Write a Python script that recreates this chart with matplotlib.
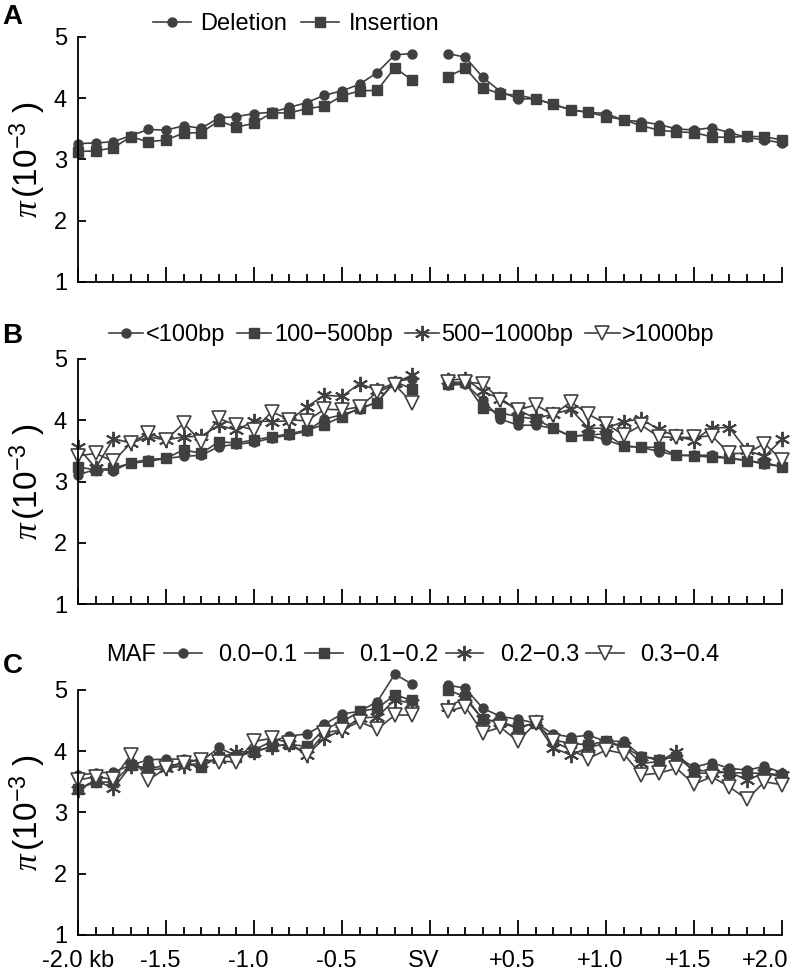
import matplotlib
matplotlib.use('Agg')
import matplotlib.pyplot as plt
import matplotlib.transforms as mtransforms
from matplotlib.ticker import MultipleLocator, FixedLocator

plt.rcParams['font.family'] = ['Liberation Sans', 'DejaVu Sans']
plt.rcParams['mathtext.fontset'] = 'custom'
plt.rcParams['mathtext.rm'] = 'Liberation Sans'
plt.rcParams['mathtext.it'] = 'Liberation Serif:italic'

# distance from the SV (kb), 20 windows each side
dist = [-2.0, -1.9, -1.8, -1.7, -1.6, -1.5, -1.4, -1.3, -1.2, -1.1,
        -1.0, -0.9, -0.8, -0.7, -0.6, -0.5, -0.4, -0.3, -0.2, -0.1,
        0.1, 0.2, 0.3, 0.4, 0.5, 0.6, 0.7, 0.8, 0.9, 1.0,
        1.1, 1.2, 1.3, 1.4, 1.5, 1.6, 1.7, 1.8, 1.9, 2.0]

xtick_pos = [-2.0, -1.5, -1.0, -0.5, 0.0, 0.5, 1.0, 1.5, 2.0]
xtick_lab = ['-2.0 kb', '-1.5', '-1.0', '-0.5', 'SV', '+0.5', '+1.0', '+1.5', '+2.0']

# panel A: SV type
deletion = [3.26, 3.27, 3.29, 3.39, 3.49, 3.48, 3.55, 3.51, 3.68, 3.70,
            3.75, 3.77, 3.85, 3.93, 4.05, 4.12, 4.23, 4.42, 4.71, 4.73,
            4.73, 4.67, 4.34, 4.11, 3.99, 3.99, 3.90, 3.81, 3.77, 3.75,
            3.64, 3.62, 3.57, 3.50, 3.48, 3.52, 3.44, 3.36, 3.32, 3.27]
insertion = [3.13, 3.14, 3.19, 3.37, 3.29, 3.32, 3.43, 3.44, 3.63, 3.53,
             3.59, 3.76, 3.76, 3.83, 3.87, 4.04, 4.12, 4.13, 4.50, 4.29,
             4.35, 4.49, 4.17, 4.07, 4.05, 3.99, 3.90, 3.81, 3.77, 3.70,
             3.65, 3.55, 3.48, 3.45, 3.44, 3.37, 3.36, 3.38, 3.37, 3.32]

# panel B: SV length
len_lt100 = [3.11, 3.20, 3.18, 3.31, 3.36, 3.38, 3.41, 3.43, 3.57, 3.61,
             3.64, 3.71, 3.76, 3.82, 4.02, 4.09, 4.18, 4.30, 4.63, 4.68,
             4.57, 4.59, 4.33, 4.02, 3.92, 3.92, 3.87, 3.74, 3.76, 3.68,
             3.58, 3.56, 3.49, 3.43, 3.43, 3.43, 3.38, 3.35, 3.28, 3.25]
len_100_500 = [3.24, 3.19, 3.22, 3.30, 3.33, 3.38, 3.52, 3.46, 3.65, 3.63,
               3.68, 3.73, 3.78, 3.84, 3.93, 4.06, 4.20, 4.29, 4.63, 4.51,
               4.59, 4.62, 4.20, 4.12, 4.06, 4.02, 3.87, 3.74, 3.76, 3.78,
               3.58, 3.56, 3.56, 3.43, 3.42, 3.40, 3.38, 3.34, 3.31, 3.24]
len_500_1000 = [3.56, 3.22, 3.70, 3.63, 3.73, 3.68, 3.73, 3.74, 3.92, 3.84,
                3.99, 3.98, 3.99, 4.22, 4.41, 4.39, 4.60, 4.49, 4.61, 4.74,
                4.65, 4.68, 4.47, 4.35, 4.17, 4.03, 4.10, 4.18, 3.87, 3.87,
                3.98, 4.02, 3.85, 3.74, 3.67, 3.88, 3.88, 3.51, 3.41, 3.69]
len_gt1000 = [3.42, 3.46, 3.33, 3.63, 3.79, 3.68, 3.95, 3.65, 4.03, 3.92,
              3.84, 4.14, 4.01, 3.99, 4.18, 4.17, 4.22, 4.46, 4.58, 4.28,
              4.62, 4.62, 4.60, 4.33, 4.17, 4.25, 4.09, 4.30, 4.10, 3.94,
              3.76, 3.92, 3.73, 3.72, 3.72, 3.75, 3.46, 3.46, 3.62, 3.35]

# panel C: minor allele frequency
maf_01 = [3.61, 3.64, 3.66, 3.77, 3.86, 3.87, 3.87, 3.83, 4.06, 3.92,
          4.02, 4.16, 4.25, 4.28, 4.44, 4.61, 4.65, 4.81, 5.26, 5.09,
          5.08, 5.03, 4.70, 4.57, 4.52, 4.46, 4.28, 4.23, 4.26, 4.16,
          4.16, 3.92, 3.87, 3.91, 3.74, 3.81, 3.72, 3.69, 3.75, 3.65]
maf_12 = [3.38, 3.50, 3.49, 3.77, 3.72, 3.76, 3.80, 3.74, 3.91, 3.91,
          3.99, 4.08, 4.11, 4.08, 4.36, 4.48, 4.65, 4.70, 4.92, 4.83,
          5.00, 4.89, 4.52, 4.48, 4.39, 4.46, 4.18, 4.13, 4.10, 4.17,
          4.07, 3.91, 3.86, 3.91, 3.68, 3.68, 3.65, 3.64, 3.64, 3.58]
maf_23 = [3.37, 3.53, 3.39, 3.76, 3.69, 3.72, 3.76, 3.81, 3.88, 3.99,
          3.99, 4.07, 4.12, 3.94, 4.21, 4.35, 4.54, 4.56, 4.84, 4.78,
          4.73, 4.86, 4.52, 4.47, 4.37, 4.47, 4.05, 3.94, 4.06, 4.13,
          4.08, 3.80, 3.83, 3.99, 3.64, 3.64, 3.66, 3.53, 3.64, 3.61]
maf_34 = [3.53, 3.58, 3.54, 3.94, 3.53, 3.72, 3.81, 3.86, 3.83, 3.83,
          4.16, 4.21, 4.14, 3.94, 4.30, 4.35, 4.48, 4.36, 4.59, 4.59,
          4.65, 4.73, 4.30, 4.39, 4.16, 4.46, 4.16, 4.02, 3.88, 4.02,
          3.96, 3.61, 3.64, 3.72, 3.46, 3.58, 3.42, 3.21, 3.50, 3.45]

grey = '#404040'
styles = {
    'circle': dict(marker='o', ms=6.5, mfc=grey, mec=grey),
    'square': dict(marker='s', ms=7, mfc=grey, mec=grey),
    'star': dict(marker=(6, 2, 0), ms=11, mfc=grey, mec=grey, mew=1.4),
    'tri': dict(marker='v', ms=10, mfc='white', mec=grey, mew=1.2),
}
FS = 17


def draw_series(ax, values, style, label):
    kw = styles[style]
    ax.plot(dist[:20], values[:20], color=grey, lw=1.2, label=label,
            clip_on=False, **kw)
    ax.plot(dist[20:], values[20:], color=grey, lw=1.2, clip_on=False, **kw)


def setup_axes(ax, show_labels):
    ax.set_xlim(-2.0, 2.0)
    ax.set_ylim(1, 5)
    ax.spines['top'].set_visible(False)
    ax.spines['right'].set_visible(False)
    ax.spines['left'].set_linewidth(1.3)
    ax.spines['bottom'].set_linewidth(1.3)
    ax.xaxis.set_major_locator(FixedLocator(xtick_pos))
    ax.xaxis.set_minor_locator(MultipleLocator(0.1))
    ax.set_yticks([1, 2, 3, 4, 5])
    ax.tick_params(axis='x', which='major', direction='in', length=11,
                   width=1.3, labelsize=FS, pad=11)
    ax.tick_params(axis='x', which='minor', direction='in', length=5.5,
                   width=1.3)
    ax.tick_params(axis='y', direction='in', length=6, width=1.3,
                   labelsize=FS, pad=8)
    if show_labels:
        ax.set_xticklabels(xtick_lab)
        shift = mtransforms.ScaledTranslation(-0.06, 0, ax.figure.dpi_scale_trans)
        labels = ax.get_xticklabels()
        for lab in labels[1:]:
            lab.set_transform(lab.get_transform() + shift)
        labels[-1].set_horizontalalignment('right')
        labels[-1].set_transform(labels[-1].get_transform()
                                 + mtransforms.ScaledTranslation(0.12, 0, ax.figure.dpi_scale_trans))
    else:
        ax.tick_params(axis='x', labelbottom=False)
    ax.set_ylabel(r'$\pi\,$(10$^{\mathrm{-3}}$ )', fontsize=24, labelpad=4)


fig = plt.figure(figsize=(7.93, 9.71), dpi=100)
axA = fig.add_axes([0.0984, 0.7096, 0.8878, 0.2523])
axB = fig.add_axes([0.0984, 0.3777, 0.8878, 0.2526])
axC = fig.add_axes([0.0984, 0.0374, 0.8878, 0.2520])

draw_series(axA, deletion, 'circle', 'Deletion')
draw_series(axA, insertion, 'square', 'Insertion')
setup_axes(axA, False)
axA.legend(loc='center', bbox_to_anchor=(0.31, 1.053), ncol=2, frameon=False,
           fontsize=FS, handlelength=1.6, handletextpad=0.4,
           columnspacing=0.6, numpoints=1, borderpad=0)

draw_series(axB, len_lt100, 'circle', '<100bp')
draw_series(axB, len_100_500, 'square', '100\u2212500bp')
draw_series(axB, len_500_1000, 'star', '500\u22121000bp')
draw_series(axB, len_gt1000, 'tri', '>1000bp')
setup_axes(axB, False)
axB.legend(loc='center', bbox_to_anchor=(0.474, 1.098), ncol=4, frameon=False,
           fontsize=FS, handlelength=1.45, handletextpad=0.12,
           columnspacing=0.5, numpoints=1, borderpad=0)

draw_series(axC, maf_01, 'circle', '0.0\u22120.1')
draw_series(axC, maf_12, 'square', '0.1\u22120.2')
draw_series(axC, maf_23, 'star', '0.2\u22120.3')
draw_series(axC, maf_34, 'tri', '0.3\u22120.4')
setup_axes(axC, True)
axC.legend(loc='center', bbox_to_anchor=(0.517, 1.143), ncol=4, frameon=False,
           fontsize=FS, handlelength=1.6, handletextpad=0.7,
           columnspacing=0.3, numpoints=1, borderpad=0)
axC.text(0.04, 1.143, 'MAF', transform=axC.transAxes, fontsize=FS,
         ha='left', va='center')

fig.text(0.003, 0.982, 'A', fontsize=20, fontweight='bold', va='center')
fig.text(0.003, 0.654, 'B', fontsize=20, fontweight='bold', va='center')
fig.text(0.003, 0.314, 'C', fontsize=20, fontweight='bold', va='center')

fig.savefig('out.png', dpi=100)
